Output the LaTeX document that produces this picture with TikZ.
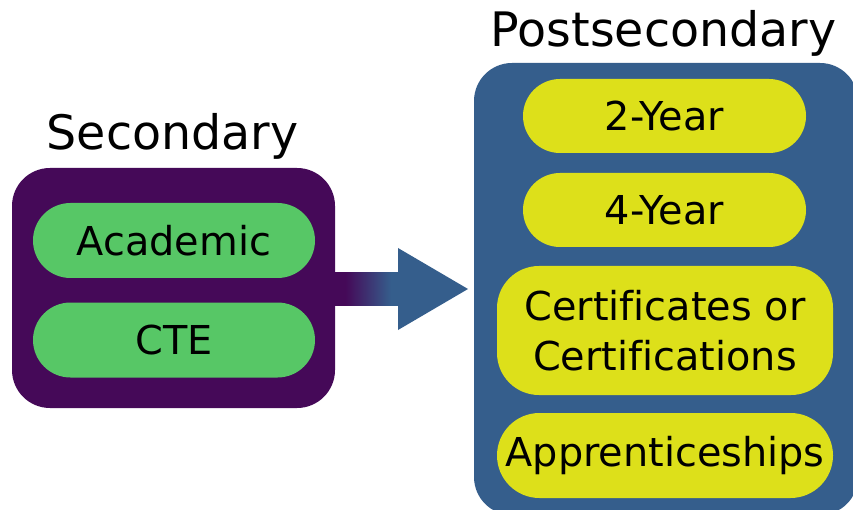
\documentclass[tikz,border=0pt]{standalone}
\usepackage{fontspec}
\setmainfont{DejaVu Sans}[Ligatures=NoCommon]
\definecolor{secpurple}{HTML}{450958}
\definecolor{postblue}{HTML}{355E8C}
\definecolor{pillgreen}{HTML}{57C766}
\definecolor{pillyellow}{HTML}{DDE01A}
% purple-to-blue blend along the arrow shaft
\pgfdeclarehorizontalshading{shaftshade}{100bp}{color(0bp)=(secpurple); color(33bp)=(secpurple); color(68bp)=(postblue); color(100bp)=(postblue)}
\tikzset{
  panel/.style={rectangle, rounded corners=38pt, inner sep=0pt},
  title/.style={anchor=base, font=\fontsize{47.5}{57}\selectfont, text=black},
  pill/.style={rectangle, inner sep=0pt, align=center, text=black,
    font=\fontsize{39.8}{50}\selectfont},
  greenpill/.style={pill, fill=pillgreen, minimum width=282pt, minimum height=75pt, rounded corners=37.5pt},
  yellowpill/.style={pill, fill=pillyellow},
}
\begin{document}
\begin{tikzpicture}[x=1pt, y=-1pt]
  \clip (0,0) rectangle (853,510);
  \fill[white] (0,0) rectangle (853,510);

  % secondary panel
  \node (sec) [panel, fill=secpurple, minimum width=323pt, minimum height=240pt] at (173.5,288) {};
  \node (sectitle) [title] at (172.5,150) {Secondary};
  \node (acad) [greenpill] at (174,240.5) {Academic};
  \node (cte) [greenpill] at (174,340) {CTE};

  % postsecondary panel, running past the right and bottom edges
  \node (post) [panel, fill=postblue, minimum width=384pt, minimum height=452pt] at (666,289) {};
  \node (posttitle) [title] at (663.5,47) {Postsecondary};
  \node (two) [yellowpill, minimum width=283pt, minimum height=74pt, rounded corners=37pt] at (664.5,116) {2-Year};
  \node (four) [yellowpill, minimum width=283pt, minimum height=74pt, rounded corners=37pt] at (664.5,210) {4-Year};
  \node (cert) [yellowpill, minimum width=336pt, minimum height=129pt, rounded corners=42pt] at (665,330.5) {Certificates or\\Certifications};
  \node (appr) [yellowpill, minimum width=336pt, minimum height=85pt, rounded corners=42.5pt] at (665,455.5) {Apprenticeships};

  % block arrow from secondary to postsecondary
  \coordinate (tip) at (468,289);
  \path[shading=shaftshade] (sec.east |- 0,273) rectangle (400,305);
  \fill[postblue] (398,248) -- (tip) -- (398,330) -- cycle;
\end{tikzpicture}
\end{document}
